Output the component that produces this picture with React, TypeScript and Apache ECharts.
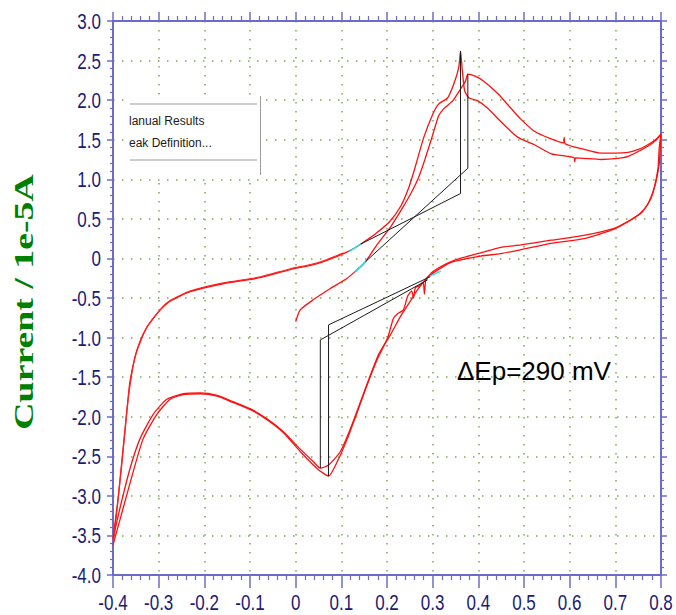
import React, { useEffect, useRef } from "react";
import * as echarts from "echarts";

// ---------- axis ticks ----------
const xMin = -0.4;
const xMax = 0.8;
const yMin = -4;
const yMax = 3;
const xTickValues = [-0.4, -0.3, -0.2, -0.1, 0, 0.1, 0.2, 0.3, 0.4, 0.5, 0.6, 0.7, 0.8];
const xTickLabels = ["-0.4", "-0.3", "-0.2", "-0.1", "0", "0.1", "0.2", "0.3", "0.4", "0.5", "0.6", "0.7", "0.8"];
const yTickValues = [3, 2.5, 2, 1.5, 1, 0.5, 0, -0.5, -1, -1.5, -2, -2.5, -3, -3.5, -4];
const yTickLabels = ["3.0", "2.5", "2.0", "1.5", "1.0", "0.5", "0", "-0.5", "-1.0", "-1.5", "-2.0", "-2.5", "-3.0", "-3.5", "-4.0"];

// ---------- texts ----------
const yAxisTitle = "Current / 1e-5A";
const annotation = "ΔEp=290 mV";
const menuItems = ["lanual Results", "eak Definition..."];

// ---------- data (potential / V, current / 1e-5 A) ----------
// cycle 1: starts at 0 V, inner anodic wave, upper right branch, cathodic sweep
const cycle1: [number, number][] = [
  [0.0, -0.8], [0.01, -0.65], [0.039, -0.52], [0.076, -0.38], [0.113, -0.25], [0.135, -0.14],
  [0.153, -0.04], [0.179, 0.18], [0.208, 0.4], [0.232, 0.62], [0.254, 0.84], [0.269, 1.02],
  [0.283, 1.25], [0.3, 1.56], [0.313, 1.8], [0.324, 1.89], [0.344, 1.99], [0.361, 2.14],
  [0.372, 2.24], [0.377, 2.33],
  [0.394, 2.3], [0.412, 2.24], [0.443, 2.08], [0.471, 1.9], [0.493, 1.76], [0.522, 1.61],
  [0.555, 1.52], [0.587, 1.46], [0.588, 1.53], [0.59, 1.45], [0.63, 1.38], [0.669, 1.33],
  [0.7, 1.33], [0.728, 1.34], [0.752, 1.38], [0.772, 1.44], [0.788, 1.5], [0.8, 1.57],
  [0.796, 1.39], [0.7935, 1.14], [0.785, 0.89], [0.774, 0.72], [0.756, 0.57], [0.728, 0.47],
  [0.697, 0.38], [0.631, 0.29], [0.559, 0.23], [0.493, 0.17], [0.449, 0.14], [0.405, 0.07],
  [0.36, 0.0], [0.333, -0.06], [0.3, -0.17], [0.28, -0.3], [0.265, -0.41], [0.25, -0.55],
  [0.23, -0.73], [0.208, -0.96], [0.181, -1.22], [0.142, -1.81], [0.12, -2.15], [0.098, -2.44],
  [0.072, -2.61], [0.054, -2.65],
  [0.039, -2.57], [0.01, -2.41], [-0.027, -2.19], [-0.062, -2.03], [-0.099, -1.9], [-0.137, -1.81],
  [-0.172, -1.73], [-0.209, -1.7], [-0.246, -1.71], [-0.282, -1.78], [-0.312, -1.97], [-0.341, -2.28],
  [-0.363, -2.66], [-0.385, -3.16], [-0.4, -3.54],
];

// cycle 2: from -0.4 V, outer anodic wave (peak), lower right branch, cathodic sweep with noise
const cycle2: [number, number][] = [
  [-0.4, -3.54], [-0.389, -3.04], [-0.378, -2.41], [-0.367, -1.77], [-0.363, -1.56], [-0.352, -1.25],
  [-0.341, -1.05], [-0.327, -0.88], [-0.312, -0.76], [-0.295, -0.64], [-0.275, -0.54], [-0.231, -0.42],
  [-0.159, -0.32], [-0.084, -0.25], [-0.012, -0.14], [0.03, -0.09], [0.061, -0.04], [0.105, 0.06],
  [0.135, 0.15], [0.142, 0.18], [0.17, 0.29], [0.205, 0.46], [0.23, 0.66], [0.248, 0.9],
  [0.261, 1.14], [0.28, 1.52], [0.3, 1.82], [0.313, 1.95], [0.333, 2.03], [0.346, 2.2],
  [0.357, 2.41], [0.361, 2.62], [0.365, 2.37], [0.37, 2.12], [0.379, 2.03], [0.399, 1.99],
  [0.42, 1.9], [0.449, 1.73], [0.478, 1.57], [0.493, 1.51], [0.522, 1.44], [0.56, 1.32],
  [0.596, 1.29], [0.61, 1.27], [0.611, 1.22], [0.613, 1.27], [0.669, 1.25], [0.7, 1.26],
  [0.728, 1.29], [0.772, 1.42], [0.79, 1.5], [0.8, 1.57],
  [0.796, 1.19], [0.789, 0.97], [0.778, 0.76], [0.763, 0.62], [0.741, 0.51], [0.697, 0.37],
  [0.631, 0.25], [0.559, 0.19], [0.493, 0.11], [0.449, 0.06], [0.405, 0.03], [0.34, -0.05],
  [0.295, -0.21], [0.285, -0.27], [0.282, -0.45], [0.279, -0.3], [0.27, -0.35], [0.262, -0.37],
  [0.258, -0.5], [0.254, -0.41], [0.245, -0.48], [0.236, -0.65], [0.223, -0.7], [0.214, -0.76],
  [0.201, -1.01], [0.179, -1.27], [0.157, -1.59], [0.135, -1.94], [0.113, -2.28], [0.091, -2.57],
  [0.072, -2.75],
  [0.048, -2.66], [0.01, -2.44], [-0.027, -2.2], [-0.062, -2.04], [-0.099, -1.91], [-0.137, -1.82],
  [-0.172, -1.74], [-0.209, -1.71], [-0.246, -1.72], [-0.275, -1.78], [-0.304, -1.97], [-0.334, -2.28],
  [-0.356, -2.7], [-0.378, -3.16], [-0.4, -3.62],
];

// second trace of the left anodic branch (almost on top of cycle 2)
const leftAnodicTrace: [number, number][] = [
  [-0.399, -3.6], [-0.388, -3.0], [-0.377, -2.38], [-0.366, -1.74], [-0.351, -1.23], [-0.326, -0.87],
  [-0.294, -0.63], [-0.274, -0.53], [-0.23, -0.41], [-0.158, -0.31], [-0.083, -0.24], [-0.011, -0.13],
  [0.03, -0.08], [0.061, -0.03], [0.105, 0.07],
];

// peak baselines (black) and baseline contact segments (cyan)
const anodicBase1: [number, number][] = [[0.142, 0.18], [0.361, 0.82], [0.361, 2.62]];
const anodicBase2: [number, number][] = [[0.153, -0.04], [0.377, 1.14], [0.377, 2.33]];
const cathodicBase1: [number, number][] = [[0.295, -0.23], [0.072, -0.84], [0.072, -2.75]];
const cathodicBase2: [number, number][] = [[0.289, -0.27], [0.054, -1.03], [0.054, -2.65]];
const cyanA: [number, number][] = [[0.118, 0.09], [0.142, 0.18]];
const cyanB: [number, number][] = [[0.131, -0.17], [0.153, -0.04]];
const cyanC: [number, number][] = [[0.295, -0.22], [0.318, -0.16]];

const axisColor = "#6c6cc8";
const labelColor = "#1b1b78";
const gridColor = "#7fa84f";
const sansFont = "'Liberation Sans', Arial, sans-serif";

function lineSeries(data: [number, number][], color: string, width: number, z: number, smooth: number | boolean) {
  return {
    type: "line",
    data,
    showSymbol: false,
    symbol: "none",
    silent: true,
    smooth,
    z,
    lineStyle: { color, width },
  };
}

function axisCommon(minorLen: number, majorLen: number) {
  return {
    axisLine: { show: true, onZero: false, lineStyle: { color: axisColor, width: 2 } },
    axisTick: { show: true, length: majorLen, lineStyle: { color: axisColor, width: 1.5 } },
    minorTick: { show: true, splitNumber: 5, length: minorLen, lineStyle: { color: axisColor, width: 1.2 } },
    axisLabel: { show: false },
  };
}

function buildOption() {
  return {
    animation: false,
    backgroundColor: "#ffffff",
    grid: { left: 113, right: 15, top: 21, bottom: 40, containLabel: false },
    xAxis: [
      {
        type: "value", min: xMin, max: xMax, interval: 0.1, position: "bottom",
        ...axisCommon(5, 13),
        splitLine: { show: true, lineStyle: { color: gridColor, width: 1.5, type: [1.5, 7.5] } },
      },
      {
        type: "value", min: xMin, max: xMax, interval: 0.1, position: "top",
        ...axisCommon(5, 9),
        splitLine: { show: false },
      },
    ],
    yAxis: [
      {
        type: "value", min: yMin, max: yMax, interval: 0.5, position: "left",
        ...axisCommon(3, 6),
        splitLine: { show: true, lineStyle: { color: gridColor, width: 1.5, type: [1.5, 7.5] } },
      },
      {
        type: "value", min: yMin, max: yMax, interval: 0.5, position: "right",
        ...axisCommon(3, 6),
        splitLine: { show: false },
      },
    ],
    series: [
      lineSeries(cycle1, "#ff1010", 1.3, 3, 0.2),
      lineSeries(cycle2, "#ff1010", 1.3, 3, 0.2),
      lineSeries(leftAnodicTrace, "#ff2020", 1.2, 3, 0.2),
      lineSeries(anodicBase1, "#1a1a1a", 1, 4, false),
      lineSeries(anodicBase2, "#1a1a1a", 1, 4, false),
      lineSeries(cathodicBase1, "#1a1a1a", 1, 4, false),
      lineSeries(cathodicBase2, "#1a1a1a", 1, 4, false),
      lineSeries(cyanA, "#19e6f0", 1.5, 5, false),
      lineSeries(cyanB, "#19e6f0", 1.5, 5, false),
      lineSeries(cyanC, "#19e6f0", 1.5, 5, false),
    ],
  };
}

export default function App() {
  const ref = useRef<HTMLDivElement>(null);

  useEffect(() => {
    if (!ref.current) return;
    const chart = echarts.init(ref.current, null, { renderer: "svg" });
    chart.setOption(buildOption() as any);

    const g: any[] = [];
    xTickValues.forEach((v, i) => {
      const p = chart.convertToPixel({ xAxisIndex: 0, yAxisIndex: 0 }, [v, yMin]) as number[];
      g.push({
        type: "text", x: p[0], y: p[1] + 27, scaleY: 1.3, silent: true, z: 50,
        style: { text: xTickLabels[i], fill: labelColor, fontSize: 17, fontFamily: sansFont, align: "center", verticalAlign: "middle" },
      });
    });
    yTickValues.forEach((v, i) => {
      const p = chart.convertToPixel({ xAxisIndex: 0, yAxisIndex: 0 }, [xMin, v]) as number[];
      g.push({
        type: "text", x: p[0] - 12, y: p[1], scaleY: 1.35, silent: true, z: 50,
        style: { text: yTickLabels[i], fill: labelColor, fontSize: 17, fontFamily: sansFont, align: "right", verticalAlign: "middle" },
      });
    });
    // y axis title
    g.push({
      type: "text", x: 23, y: 302, rotation: Math.PI / 2, scaleX: 1.35, silent: true, z: 50,
      style: {
        text: yAxisTitle, fill: "#008000", fontSize: 28, fontWeight: "bold",
        fontFamily: "'Liberation Serif', 'Times New Roman', serif", align: "center", verticalAlign: "middle",
      },
    });
    // annotation
    g.push({
      type: "text", x: 457, y: 371, silent: true, z: 50,
      style: { text: annotation, fill: "#000000", fontSize: 26, fontFamily: sansFont, align: "left", verticalAlign: "middle" },
    });
    // partial context menu
    g.push({ type: "rect", shape: { x: 125, y: 96, width: 135, height: 80 }, style: { fill: "#ffffff" }, silent: true, z: 40 });
    g.push({ type: "line", shape: { x1: 130, y1: 104, x2: 257, y2: 104 }, style: { stroke: "#9a9a9a", lineWidth: 1 }, silent: true, z: 41 });
    g.push({ type: "line", shape: { x1: 130, y1: 160, x2: 257, y2: 160 }, style: { stroke: "#9a9a9a", lineWidth: 1 }, silent: true, z: 41 });
    g.push({ type: "line", shape: { x1: 260.5, y1: 96, x2: 260.5, y2: 175 }, style: { stroke: "#9a9a9a", lineWidth: 1 }, silent: true, z: 41 });
    menuItems.forEach((t, i) => {
      g.push({
        type: "text", x: 129, y: 121 + i * 22, silent: true, z: 42,
        style: { text: t, fill: "#1a1a1a", fontSize: 12, fontFamily: sansFont, align: "left", verticalAlign: "middle" },
      });
    });

    chart.setOption({ graphic: g } as any);
    return () => chart.dispose();
  }, []);

  return (
    <div
      ref={ref}
      style={{ position: "fixed", left: 0, top: 0, width: 676, height: 615, background: "#ffffff" }}
    />
  );
}
